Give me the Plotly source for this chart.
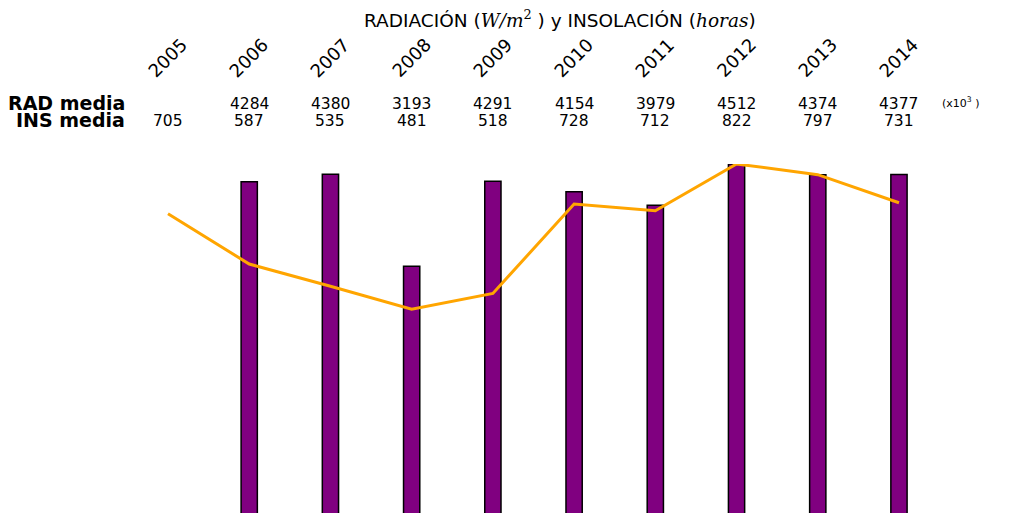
import plotly.graph_objects as go

years = ["2005", "2006", "2007", "2008", "2009", "2010", "2011", "2012", "2013", "2014"]
rad_media = [None, 4284, 4380, 3193, 4291, 4154, 3979, 4512, 4374, 4377]
ins_media = [705, 587, 535, 481, 518, 728, 712, 822, 797, 731]

idx = list(range(len(years)))
FONT = "DejaVu Sans"
OFF = 8  # page body margin offset

fig = go.Figure()
fig.add_trace(go.Bar(
    x=idx, y=[v if v is not None else 0 for v in rad_media],
    marker=dict(color="#800080", line=dict(color="black", width=1.5)),
    width=0.2, yaxis="y", showlegend=False,
))
fig.add_trace(go.Scatter(
    x=idx, y=ins_media, mode="lines",
    line=dict(color="#FFA500", width=3), yaxis="y2", showlegend=False,
))

rad_max = max(v for v in rad_media if v is not None)
ins_max = max(ins_media)

PLOT_TOP = 164 - OFF
PLOT_BOT = 514 - OFF
H = PLOT_BOT - PLOT_TOP
W = 1014


def py(pix):
    return (PLOT_BOT - (pix - OFF)) / H


def px(pix):
    return (pix - OFF) / W


ann = []
for i, y in enumerate(years):
    ann.append(dict(x=i, y=py(58), xref="x", yref="paper", text=y, showarrow=False,
                    textangle=-45, font=dict(size=18, family=FONT, color="black"),
                    xanchor="center", yanchor="middle"))
    if rad_media[i] is not None:
        ann.append(dict(x=i, y=py(104), xref="x", yref="paper", text=str(rad_media[i]),
                        showarrow=False, font=dict(size=15.5, family=FONT, color="black"),
                        xanchor="center", yanchor="middle"))
    ann.append(dict(x=i, y=py(121), xref="x", yref="paper", text=str(ins_media[i]),
                    showarrow=False, font=dict(size=15.5, family=FONT, color="black"),
                    xanchor="center", yanchor="middle"))

ann.append(dict(x=px(127), y=py(103), xref="paper", yref="paper", text="<b>RAD media</b>",
                showarrow=False, font=dict(size=19, family=FONT, color="black"),
                xanchor="right", yanchor="middle"))
ann.append(dict(x=px(127), y=py(120), xref="paper", yref="paper", text="<b>INS media</b>",
                showarrow=False, font=dict(size=19, family=FONT, color="black"),
                xanchor="right", yanchor="middle"))
ann.append(dict(x=px(940), y=py(103), xref="paper", yref="paper",
                text="(x10<sup>3</sup> )", showarrow=False,
                font=dict(size=11, family=FONT, color="black"),
                xanchor="left", yanchor="middle"))
ann.append(dict(x=px(560), y=py(19), xref="paper", yref="paper",
                text="RADIACIÓN (<span style=\"font-family:'DejaVu Serif'\"><i>W/m</i><sup>2</sup></span> ) y INSOLACIÓN (<span style=\"font-family:'DejaVu Serif'\"><i>horas</i></span>)",
                showarrow=False, font=dict(size=18.5, family=FONT, color="black"),
                xanchor="center", yanchor="middle"))

x0 = -(168 - OFF) / 81.22
x1 = (W - (168 - OFF)) / 81.22

fig.update_layout(
    width=W, height=513,
    margin=dict(l=0, r=0, t=PLOT_TOP, b=513 - PLOT_BOT),
    plot_bgcolor="white", paper_bgcolor="white",
    xaxis=dict(range=[x0, x1], visible=False, fixedrange=True),
    yaxis=dict(range=[0, rad_max], visible=False),
    yaxis2=dict(range=[0, ins_max], visible=False, overlaying="y"),
    annotations=ann,
    font=dict(family=FONT),
)

fig.write_html("out.html")
